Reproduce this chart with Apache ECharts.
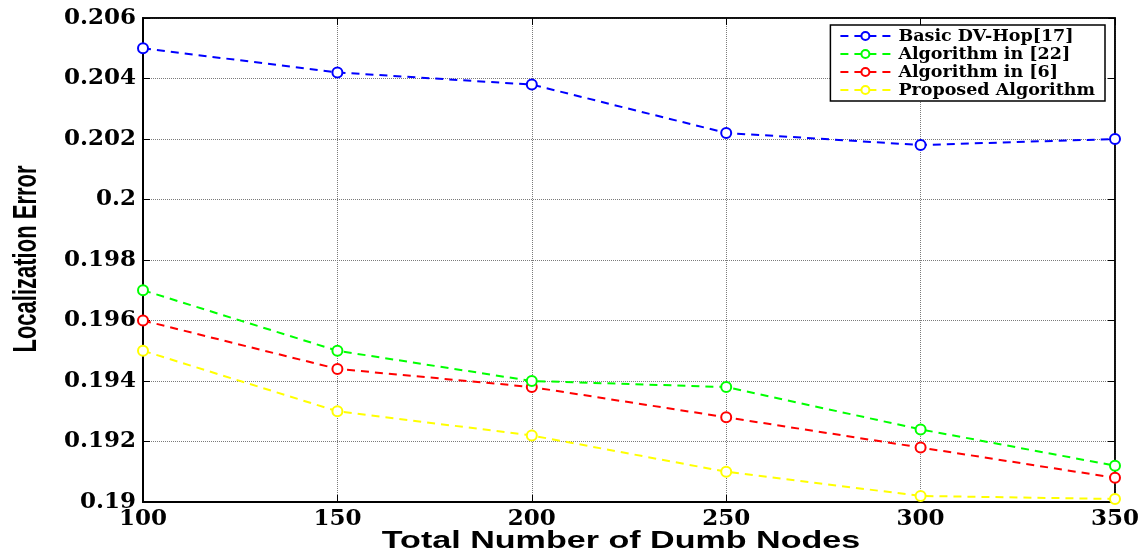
<!DOCTYPE html>
<html>
<head>
<meta charset="utf-8">
<script src="https://cdn.jsdelivr.net/npm/echarts@6/dist/echarts.min.js"></script>
<style>
  html, body { margin: 0; padding: 0; background: #fff; }
  #chart { width: 1144px; height: 557px; }
</style>
</head>
<body>
<div id="chart"></div>
<script>
// Number of dumb nodes along the x axis
const nodeCounts = [100, 150, 200, 250, 300, 350];

// Localization error for each method
const basicDvHop = [0.2050, 0.2042, 0.2038, 0.2022, 0.2018, 0.2020];
const algorithm22 = [0.1970, 0.1950, 0.1940, 0.1938, 0.1924, 0.1912];
const algorithm6 = [0.1960, 0.1944, 0.1938, 0.1928, 0.1918, 0.1908];
const proposed = [0.1950, 0.1930, 0.1922, 0.1910, 0.1902, 0.1901];

const seriesNames = ['Basic DV-Hop[17]', 'Algorithm in [22]', 'Algorithm in [6]', 'Proposed Algorithm'];
const seriesColors = ['#0000ff', '#00ff00', '#ff0000', '#ffff00'];
const seriesData = [basicDvHop, algorithm22, algorithm6, proposed];

const xTitle = 'Total Number of Dumb Nodes';
const yTitle = 'Localization Error';

const serif = '"DejaVu Serif", "Liberation Serif", serif';
const sans = '"Liberation Sans", Arial, sans-serif';

const chart = echarts.init(document.getElementById('chart'));

const gridLine = { show: true, lineStyle: { color: '#7a7a7a', type: 'dotted', width: 1 } };
const tick = { show: true, inside: true, length: 7, lineStyle: { color: '#000', width: 1 } };

chart.setOption({
  backgroundColor: '#ffffff',
  animation: false,
  grid: {
    left: 143, right: 29, top: 18, bottom: 55,
    outerBoundsMode: 'none',
    containLabel: false,
    show: true, borderColor: '#000', borderWidth: 1.5
  },
  legend: {
    orient: 'vertical',
    right: 39,
    top: 25,
    itemWidth: 50,
    itemHeight: 10,
    itemGap: 0,
    padding: [2, 10, 2, 9],
    backgroundColor: '#fff',
    borderColor: '#000',
    borderWidth: 1.5,
    textStyle: { fontFamily: serif, fontWeight: 'bold', fontSize: 17.5, lineHeight: 18, color: '#000', padding: [0, 0, 0, 3] },
    data: seriesNames
  },
  xAxis: [{
    type: 'value',
    min: 100, max: 350, interval: 50,
    axisLine: { show: true, lineStyle: { color: '#000', width: 2 } },
    axisTick: tick,
    axisLabel: { margin: 6, fontFamily: serif, fontWeight: 'bold', fontSize: 23, color: '#000' },
    splitLine: gridLine
  }, {
    type: 'value', position: 'top',
    min: 100, max: 350, interval: 50,
    axisLine: { show: true, lineStyle: { color: '#000', width: 1.5 } },
    axisTick: tick,
    axisLabel: { show: false },
    splitLine: { show: false }
  }],
  yAxis: [{
    type: 'value',
    min: 0.19, max: 0.206, interval: 0.002,
    axisLine: { show: true, lineStyle: { color: '#000', width: 2 } },
    axisTick: tick,
    axisLabel: {
      margin: 7,
      fontFamily: serif, fontWeight: 'bold', fontSize: 23, color: '#000',
      formatter: v => String(Number(v.toFixed(3)))
    },
    splitLine: gridLine
  }, {
    type: 'value', position: 'right',
    min: 0.19, max: 0.206, interval: 0.002,
    axisLine: { show: true, lineStyle: { color: '#000', width: 1.5 } },
    axisTick: tick,
    axisLabel: { show: false },
    splitLine: { show: false }
  }],
  // Axis titles: wide bold sans below, tall condensed sans on the left
  graphic: [{
    type: 'text',
    x: 621, y: 541,
    scaleX: 1.42,
    style: {
      text: xTitle,
      font: 'bold 24px ' + sans,
      fill: '#000',
      align: 'center',
      verticalAlign: 'middle'
    }
  }, {
    type: 'text',
    x: 27, y: 259,
    rotation: Math.PI / 2,
    scaleX: 0.667,
    style: {
      text: yTitle,
      font: 'bold 33px ' + sans,
      fill: '#000',
      align: 'center',
      verticalAlign: 'middle'
    }
  }],
  series: seriesNames.map((name, i) => ({
    name,
    type: 'line',
    xAxisIndex: 0,
    yAxisIndex: 0,
    data: nodeCounts.map((x, j) => [x, seriesData[i][j]]),
    symbol: 'circle',
    symbolSize: 10,
    showAllSymbol: true,
    color: seriesColors[i],
    lineStyle: { color: seriesColors[i], width: 2, type: [8, 6] },
    itemStyle: { color: '#fff', borderColor: seriesColors[i], borderWidth: 2 },
    emphasis: { disabled: true },
    z: 10 - i
  }))
});
</script>
</body>
</html>
